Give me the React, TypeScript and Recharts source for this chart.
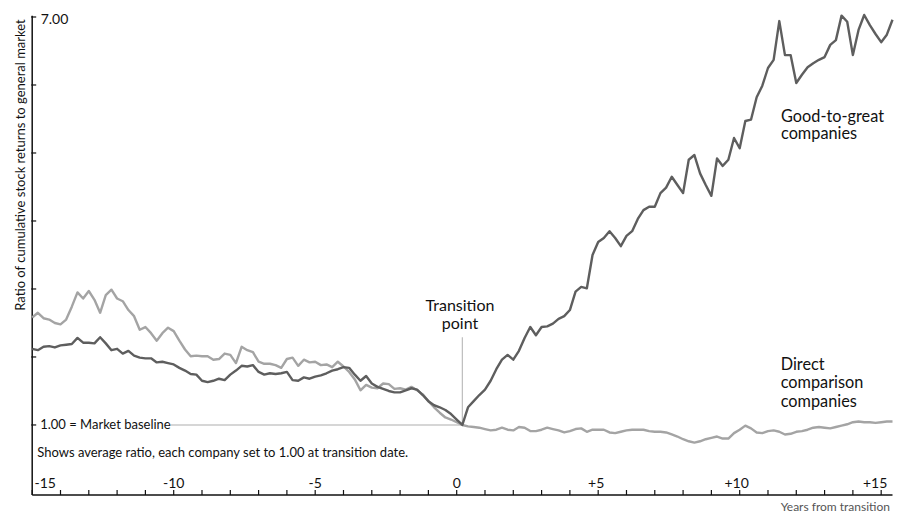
import { LineChart, Line, XAxis, YAxis, ReferenceLine } from 'recharts';

// years from transition, sampled every 0.2 year starting at -15
const YEAR_START = -15;
const YEAR_STEP = 0.2;

// ratio of cumulative stock returns to general market
const GOOD_TO_GREAT = [
  2.12, 2.10, 2.15, 2.16, 2.14, 2.17, 2.18, 2.19, 2.28, 2.21,
  2.21, 2.20, 2.29, 2.20, 2.10, 2.12, 2.05, 2.09, 2.02, 1.99,
  1.98, 1.98, 1.92, 1.93, 1.91, 1.89, 1.84, 1.80, 1.75, 1.74,
  1.65, 1.63, 1.65, 1.68, 1.66, 1.74, 1.80, 1.87, 1.86, 1.88,
  1.78, 1.74, 1.76, 1.75, 1.76, 1.78, 1.66, 1.65, 1.70, 1.68,
  1.71, 1.73, 1.76, 1.80, 1.82, 1.85, 1.84, 1.74, 1.65, 1.72,
  1.61, 1.56, 1.53, 1.50, 1.48, 1.48, 1.51, 1.54, 1.52, 1.44,
  1.35, 1.29, 1.26, 1.22, 1.16, 1.08,
  1.00, 1.26, 1.35, 1.44, 1.52, 1.65, 1.82, 1.96, 2.03, 1.96,
  2.09, 2.28, 2.44, 2.32, 2.44, 2.45, 2.49, 2.56, 2.60, 2.69,
  2.96, 3.03, 3.01, 3.50, 3.69, 3.75, 3.85, 3.75, 3.63, 3.78,
  3.85, 4.03, 4.16, 4.21, 4.21, 4.41, 4.49, 4.65, 4.53, 4.41,
  4.90, 4.97, 4.70, 4.53, 4.37, 4.92, 4.81, 4.90, 5.22, 5.07,
  5.47, 5.49, 5.82, 5.99, 6.25, 6.37, 6.94, 6.44, 6.44, 6.03,
  6.15, 6.26, 6.32, 6.37, 6.41, 6.59, 6.66, 7.02, 6.93, 6.44,
  6.81, 7.03, 6.88, 6.75, 6.63, 6.74, 6.96,
];

const COMPARISON = [
  2.58, 2.65, 2.57, 2.55, 2.50, 2.48, 2.55, 2.74, 2.95, 2.86,
  2.97, 2.84, 2.65, 2.91, 2.99, 2.86, 2.82, 2.69, 2.60, 2.40,
  2.44, 2.35, 2.24, 2.35, 2.43, 2.38, 2.24, 2.11, 2.01, 2.02,
  2.01, 2.01, 1.96, 1.97, 2.05, 2.03, 1.91, 2.15, 2.10, 2.07,
  1.93, 1.90, 1.90, 1.88, 1.84, 1.97, 1.99, 1.87, 1.96, 1.92,
  1.93, 1.88, 1.89, 1.85, 1.93, 1.86, 1.78, 1.67, 1.51, 1.59,
  1.55, 1.54, 1.61, 1.60, 1.53, 1.54, 1.52, 1.56, 1.51, 1.45,
  1.35, 1.26, 1.18, 1.11, 1.08, 1.04,
  1.00, 0.98, 0.97, 0.96, 0.94, 0.92, 0.93, 0.96, 0.93, 0.92,
  0.97, 0.96, 0.91, 0.91, 0.93, 0.96, 0.94, 0.92, 0.89, 0.91,
  0.94, 0.95, 0.90, 0.93, 0.93, 0.93, 0.89, 0.88, 0.90, 0.92,
  0.93, 0.93, 0.93, 0.91, 0.90, 0.90, 0.89, 0.86, 0.83, 0.79,
  0.76, 0.74, 0.76, 0.79, 0.81, 0.83, 0.80, 0.80, 0.88, 0.93,
  0.99, 0.95, 0.89, 0.88, 0.91, 0.92, 0.90, 0.86, 0.87, 0.90,
  0.91, 0.93, 0.96, 0.97, 0.96, 0.95, 0.97, 0.99, 1.01, 1.04,
  1.05, 1.04, 1.04, 1.03, 1.04, 1.05, 1.05,
];

const X_TICKS = [
  -15, -14, -13, -12, -11, -10, -9, -8, -7, -6, -5, -4, -3, -2, -1, 0,
  1, 2, 3, 4, 5, 6, 7, 8, 9, 10, 11, 12, 13, 14, 15,
];
const X_LABELS: Record<string, string> = {
  '-15': '-15', '-10': '-10', '-5': '-5', '0': '0', '5': '+5', '10': '+10', '15': '+15',
};
const Y_TICKS = [1, 2, 3, 4, 5, 6, 7];
const TRANSITION_YEAR = 0.2;

const data = GOOD_TO_GREAT.map((g, i) => ({
  year: Math.round((YEAR_START + i * YEAR_STEP) * 10) / 10,
  gtg: g,
  comp: COMPARISON[i],
}));

const FONT = 'Lato, "Open Sans", sans-serif';
const INK = '#111';

function XTick(props: any) {
  const { x, y, payload } = props;
  const label = X_LABELS[String(payload.value)];
  const shift: Record<string, number> = { '-15': 13, '5': -2, '10': -3, '15': -6 };
  return (
    <g>
      <line x1={x} x2={x} y1={y} y2={y - 5} stroke={INK} strokeWidth={1.2} />
      {label && (
        <text x={x + (shift[String(payload.value)] || 0)} y={y - 7.5} textAnchor="middle"
          fontSize={14} fontFamily={FONT} fill={INK}>
          {label}
        </text>
      )}
    </g>
  );
}

function YTick(props: any) {
  const { x, y, payload } = props;
  const v = payload.value;
  return (
    <g>
      <line x1={x - 1} x2={x + 4} y1={y} y2={y} stroke={INK} strokeWidth={1.2} />
      {v === 7 && (
        <text x={x + 8.5} y={y + 7.5} fontSize={14} fontFamily={FONT} fill={INK}>7.00</text>
      )}
      {v === 1 && (
        <text x={x + 8} y={y + 4.5} fontSize={13} fontFamily={FONT} fill={INK}>1.00 = Market baseline</text>
      )}
    </g>
  );
}

export default function App() {
  return (
    <div style={{ position: 'absolute', left: 0, top: 0, width: 898, height: 512, background: '#fff' }}>
      <LineChart width={898} height={512} data={data}
        margin={{ top: 13.6, right: 5.5, bottom: 0, left: 0 }}>
        <XAxis type="number" dataKey="year" domain={[-15, 15.4]} ticks={X_TICKS} interval={0}
          height={17} tickSize={0} tickMargin={0} tickLine={false}
          axisLine={{ stroke: INK, strokeWidth: 1.5 }} tick={<XTick />} />
        <YAxis type="number" domain={[-0.03, 7.05]} ticks={Y_TICKS} interval={0}
          width={32.2} tickSize={0} tickMargin={0} tickLine={false} axisLine={false} tick={<YTick />} />
        <ReferenceLine segment={[{ x: -15, y: -0.03 }, { x: -15, y: 7.02 }]} stroke={INK} strokeWidth={1.5} />
        <ReferenceLine segment={[{ x: -10.13, y: 1 }, { x: TRANSITION_YEAR, y: 1 }]} stroke="#c8c8c8" strokeWidth={1.5} />
        <ReferenceLine segment={[{ x: TRANSITION_YEAR, y: 1 }, { x: TRANSITION_YEAR, y: 2.29 }]} stroke="#bdbdbd" strokeWidth={1.2} />
        <Line type="linear" dataKey="comp" stroke="#a4a4a4" strokeWidth={2.4} strokeLinejoin="round"
          dot={false} isAnimationActive={false} />
        <Line type="linear" dataKey="gtg" stroke="#5e5e5e" strokeWidth={2.4} strokeLinejoin="round"
          dot={false} isAnimationActive={false} />
      </LineChart>
      <svg width={898} height={512} style={{ position: 'absolute', left: 0, top: 0, pointerEvents: 'none' }}
        fontFamily={FONT} fill={INK}>
        <text transform="translate(24.5, 165) rotate(-90)" textAnchor="middle" fontSize={13}>
          Ratio of cumulative stock returns to general market
        </text>
        <text x={460} y={310.5} textAnchor="middle" fontSize={16}>Transition</text>
        <text x={460} y={328.5} textAnchor="middle" fontSize={16}>point</text>
        <text x={781} y={121.5} fontSize={16.3}>Good-to-great</text>
        <text x={781} y={139} fontSize={16.3}>companies</text>
        <text x={780.7} y={370} fontSize={16.3}>Direct</text>
        <text x={780.7} y={388.3} fontSize={16.3}>comparison</text>
        <text x={780.7} y={406.7} fontSize={16.3}>companies</text>
        <text x={37.3} y={456.7} fontSize={13}>
          Shows average ratio, each company set to 1.00 at transition date.
        </text>
        <text x={890} y={510.5} textAnchor="end" fontSize={12} fill="#555">Years from transition</text>
      </svg>
    </div>
  );
}
